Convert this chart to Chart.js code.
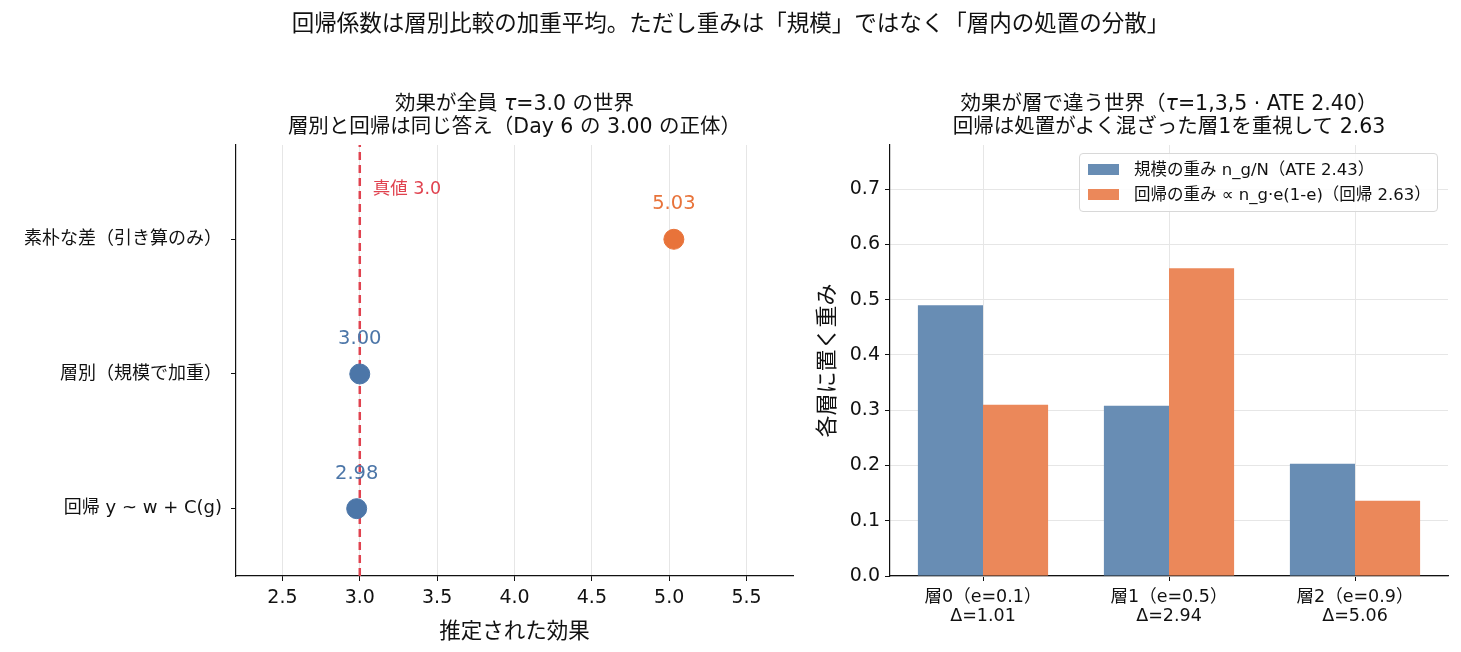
<!DOCTYPE html>
<html lang="ja">
<head>
    <meta charset="UTF-8">
    <title>回帰係数は層別比較の加重平均</title>
    <script src="https://cdn.jsdelivr.net/npm/chart.js@4.4.1/dist/chart.umd.min.js"></script>
    <style>
        body { margin: 0; width: 1461px; height: 652px; background: #fff; position: relative; overflow: hidden;
               font-family: "DejaVu Sans", "Noto Sans CJK JP", sans-serif; color: #111; }
        .suptitle { position: absolute; top: 5px; left: 0; width: 1461px; text-align: center; font-size: 22.5px; z-index: 2; }
        .subtitle { position: absolute; top: 92px; text-align: center; font-size: 20.5px; line-height: 23px; z-index: 2; }
        .wrap { position: absolute; top: 0; height: 652px; }
        .legend { position: absolute; left: 1079px; top: 153px; width: 359px; height: 59px; border: 1px solid #d8d8d8;
                  border-radius: 4px; background: rgba(255,255,255,0.85); font-size: 16.5px; z-index: 2; box-sizing: border-box; }
        .legend div { position: absolute; left: 8px; white-space: nowrap; line-height: 20px; }
        .legend span.sw { display: inline-block; width: 31px; height: 11px; vertical-align: middle; margin-right: 15px; position: relative; top: -1px; }
    </style>
</head>
<body>
    <div class="suptitle">回帰係数は層別比較の加重平均。ただし重みは「規模」ではなく「層内の処置の分散」</div>
    <div class="subtitle" style="left:236px;width:557px">効果が全員 <i>τ</i>=3.0 の世界<br>層別と回帰は同じ答え（Day 6 の 3.00 の正体）</div>
    <div class="subtitle" style="left:890px;width:558px">効果が層で違う世界（<i>τ</i>=1,3,5 · ATE 2.40）<br>回帰は処置がよく混ざった層1を重視して 2.63</div>

    <div class="wrap" style="left:0;width:810px"><canvas id="leftChart"></canvas></div>
    <div class="wrap" style="left:810px;width:651px"><canvas id="rightChart"></canvas></div>
    <div class="legend" id="legend"></div>

    <script>
        // 左: 推定値の比較
        const methods = ['素朴な差（引き算のみ）', '層別（規模で加重）', '回帰 y ~ w + C(g)'];
        const methodRows = [2, 1, 0];
        const estimates = [5.03, 3.00, 2.98];
        const trueTau = 3.0;
        const xTicksLeft = [2.5, 3.0, 3.5, 4.0, 4.5, 5.0, 5.5];

        // 右: 層ごとの重み
        const strata = [['層0（e=0.1）', 'Δ=1.01'], ['層1（e=0.5）', 'Δ=2.94'], ['層2（e=0.9）', 'Δ=5.06']];
        const sizeWeights = [0.490, 0.308, 0.203];
        const regWeights = [0.310, 0.557, 0.136];
        const seriesNames = ['規模の重み n_g/N（ATE 2.43）', '回帰の重み ∝ n_g·e(1-e)（回帰 2.63）'];
        const yTicksRight = [0, 0.1, 0.2, 0.3, 0.4, 0.5, 0.6, 0.7];

        const BLUE = '#4c76a8', ORANGE = '#e8733a', RED = '#e0424f';
        const BAR_BLUE = '#688db4', BAR_ORANGE = '#eb885a';
        const FONT = '"DejaVu Sans", "Noto Sans CJK JP", sans-serif';
        const GRID = '#e6e6e6';

        Chart.defaults.font.family = FONT;
        Chart.defaults.color = '#111';

        const pointColors = estimates.map((v, i) => i === 0 ? ORANGE : BLUE);

        const labelPlugin = {
            id: 'valueLabels',
            afterDatasetsDraw(chart) {
                const ctx = chart.ctx;
                const meta = chart.getDatasetMeta(1);
                ctx.save();
                ctx.font = '19.5px ' + FONT;
                ctx.textAlign = 'center';
                ctx.textBaseline = 'middle';
                meta.data.forEach((pt, i) => {
                    ctx.fillStyle = pointColors[i];
                    ctx.fillText(estimates[i].toFixed(2), pt.x, pt.y - 35);
                });
                const xs = chart.scales.x, ys = chart.scales.y;
                ctx.fillStyle = RED;
                ctx.font = '17.5px ' + FONT;
                ctx.textAlign = 'left';
                ctx.fillText('真値 ' + trueTau.toFixed(1), xs.getPixelForValue(trueTau) + 13, ys.getPixelForValue(2.37));
                ctx.restore();
            }
        };

        new Chart(document.getElementById('leftChart'), {
            data: {
                datasets: [{
                    type: 'line',
                    data: [{ x: trueTau, y: -0.5 }, { x: trueTau, y: 2.7 }],
                    borderColor: RED,
                    borderWidth: 2.5,
                    borderDash: [8, 5],
                    pointRadius: 0,
                    order: 2
                }, {
                    type: 'scatter',
                    data: estimates.map((v, i) => ({ x: v, y: methodRows[i] })),
                    backgroundColor: pointColors,
                    borderColor: pointColors,
                    pointRadius: 10,
                    order: 1
                }]
            },
            options: {
                responsive: true,
                maintainAspectRatio: false,
                animation: false,
                layout: { padding: { top: 145, right: 17, left: 0, bottom: 0 } },
                plugins: { legend: { display: false }, tooltip: { enabled: false } },
                scales: {
                    x: {
                        type: 'linear', min: 2.2, max: 5.8,
                        afterBuildTicks: s => { s.ticks = xTicksLeft.map(v => ({ value: v })); },
                        afterFit: s => { s.height = 76; },
                        ticks: { callback: v => v.toFixed(1), font: { size: 19 }, color: '#111', padding: 6 },
                        grid: { color: GRID, tickColor: '#111', tickLength: 5 },
                        border: { color: '#111', width: 1.2 },
                        title: { display: true, text: '推定された効果', font: { size: 21.5 }, color: '#111', padding: { top: 0, bottom: 7 } }
                    },
                    y: {
                        type: 'linear', min: -0.5, max: 2.7,
                        afterBuildTicks: s => { s.ticks = methodRows.map(v => ({ value: v })); },
                        afterFit: s => { s.width = 236; },
                        ticks: { callback: v => methods[methodRows.indexOf(v)], font: { size: 18 }, color: '#111', padding: 9 },
                        grid: { drawOnChartArea: false, tickColor: '#111', tickLength: 5 },
                        border: { color: '#111', width: 1.2 }
                    }
                }
            },
            plugins: [labelPlugin]
        });

        new Chart(document.getElementById('rightChart'), {
            type: 'bar',
            data: {
                labels: strata,
                datasets: [{
                    label: seriesNames[0],
                    data: sizeWeights,
                    backgroundColor: BAR_BLUE,
                    categoryPercentage: 0.7,
                    barPercentage: 1.0
                }, {
                    label: seriesNames[1],
                    data: regWeights,
                    backgroundColor: BAR_ORANGE,
                    categoryPercentage: 0.7,
                    barPercentage: 1.0
                }]
            },
            options: {
                responsive: true,
                maintainAspectRatio: false,
                animation: false,
                layout: { padding: { top: 145, right: 13, left: 0, bottom: 0 } },
                plugins: { legend: { display: false }, tooltip: { enabled: false } },
                scales: {
                    x: {
                        afterFit: s => { s.height = 76; },
                        ticks: { font: { size: 17.5, lineHeight: 1.1 }, color: '#111', padding: 7 },
                        grid: { offset: false, color: GRID, tickColor: '#111', tickLength: 5 },
                        border: { color: '#111', width: 1.2 }
                    },
                    y: {
                        min: 0, max: 0.78,
                        afterBuildTicks: s => { s.ticks = yTicksRight.map(v => ({ value: v })); },
                        afterFit: s => { s.width = 80; },
                        ticks: { callback: v => v.toFixed(1), font: { size: 19 }, color: '#111', padding: 5 },
                        grid: { color: GRID, tickColor: '#111', tickLength: 5 },
                        border: { color: '#111', width: 1.2 },
                        title: { display: true, text: '各層に置く重み', font: { size: 22 }, color: '#111', padding: { top: 5, bottom: 0 } }
                    }
                }
            }
        });

        // 凡例
        const legendColors = [BAR_BLUE, BAR_ORANGE];
        document.getElementById('legend').innerHTML = seriesNames.map((name, i) =>
            `<div style="top:${6 + i * 25}px"><span class="sw" style="background:${legendColors[i]}"></span>${name}</div>`
        ).join('');
    </script>
</body>
</html>
